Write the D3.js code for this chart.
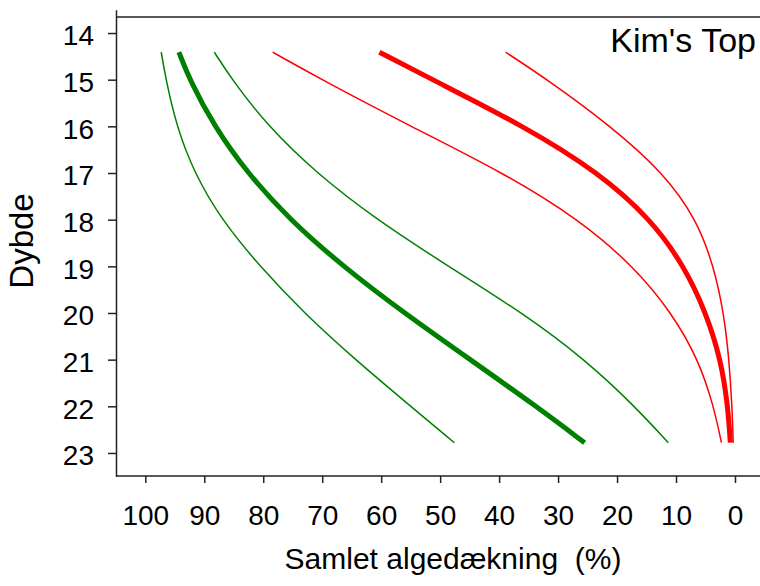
<!DOCTYPE html>
<html>
<head>
<meta charset="utf-8">
<script src="https://cdn.jsdelivr.net/npm/d3@7"></script>
<style>
  html, body { margin: 0; padding: 0; background: #fff; }
  svg { display: block; }
  text { font-family: Arial, "Liberation Sans", Helvetica, sans-serif; fill: #000; }
</style>
</head>
<body>
<svg id="chart" width="760" height="586"></svg>
<script>
// Depths (Dybde) at which curve values were read
const depths = [14.41, 15, 16, 17, 18, 19, 20, 21, 22, 22.78];

// Green series (Samlet algedækning %): fit and band
const greenFit   = [94.3, 92.5, 88.3, 82.7, 75.5, 66.5, 56.1, 44.9, 33.7, 25.5];
const greenLower = [97.3, 96.5, 94.7, 91.7, 87.1, 80.6, 73.1, 64.4, 55.0, 47.6];
const greenUpper = [88.3, 85.3, 79.2, 71.0, 60.8, 48.6, 36.0, 25.4, 17.0, 11.3];

// Red series: fit and band
const redFit   = [60.3, 51.3, 35.7, 23.0, 14.2, 8.6, 4.9, 2.4, 1.2, 0.8];
const redLower = [78.4, 70.1, 55.0, 39.2, 26.4, 17.2, 10.7, 6.2, 3.6, 2.3];
const redUpper = [38.9, 31.8, 21.0, 12.1, 6.5, 3.6, 1.9, 1.0, 0.5, 0.3];

const xTicks = [100, 90, 80, 70, 60, 50, 40, 30, 20, 10, 0];
const yTicks = [14, 15, 16, 17, 18, 19, 20, 21, 22, 23];

const svg = d3.select("#chart");

const x = d3.scaleLinear().domain([100, 0]).range([145.3, 735]);
const y = d3.scaleLinear().domain([13.5, 23.5]).range([9.7, 476.3]);

const axisColor = "#222";

// Frame: top line
svg.append("line").attr("x1", 116).attr("x2", 760).attr("y1", 17).attr("y2", 17)
  .attr("stroke", axisColor).attr("stroke-width", 1.5);

// Y axis
const yAxis = d3.axisLeft(y).tickValues(yTicks).tickSize(8).tickPadding(14).tickSizeOuter(0);
const gy = svg.append("g").attr("transform", "translate(116,0)").call(yAxis);
gy.select(".domain").attr("stroke", axisColor).attr("stroke-width", 1.5);
gy.selectAll(".tick line").attr("stroke", axisColor).attr("stroke-width", 1.5);
gy.selectAll(".tick text").attr("font-size", 28).attr("font-family", "Arial, 'Liberation Sans', sans-serif")
  .attr("fill", "#000").attr("dy", "0.42em");

// X axis
const xAxis = d3.axisBottom(x).tickValues(xTicks).tickSize(7).tickPadding(22).tickSizeOuter(0);
const gx = svg.append("g").attr("transform", "translate(0,476)").call(xAxis);
gx.select(".domain").remove();
gx.append("line").attr("x1", 116).attr("x2", 760).attr("y1", 0).attr("y2", 0)
  .attr("stroke", axisColor).attr("stroke-width", 1.5);
gx.selectAll(".tick line").attr("stroke", axisColor).attr("stroke-width", 1.5);
gx.selectAll(".tick text").attr("font-size", 28).attr("font-family", "Arial, 'Liberation Sans', sans-serif")
  .attr("fill", "#000").attr("dy", "0.71em");

// Curves
const line = d3.line()
  .x(d => x(d[1]))
  .y(d => y(d[0]))
  .curve(d3.curveBasis);

const series = [
  { vals: greenLower, color: "#008000", w: 1.5 },
  { vals: greenUpper, color: "#008000", w: 1.5 },
  { vals: greenFit,   color: "#008000", w: 5 },
  { vals: redLower,   color: "#ff0000", w: 1.5 },
  { vals: redUpper,   color: "#ff0000", w: 1.5 },
  { vals: redFit,     color: "#ff0000", w: 5 }
];

svg.append("g").selectAll("path").data(series).join("path")
  .attr("d", s => line(depths.map((d, i) => [d, s.vals[i]])))
  .attr("fill", "none")
  .attr("stroke", s => s.color)
  .attr("stroke-width", s => s.w);

// Labels
svg.append("text").attr("x", 756).attr("y", 52).attr("text-anchor", "end")
  .attr("font-size", 34).text("Kim's Top");

svg.append("text").attr("transform", "translate(33,241) rotate(-90)")
  .attr("text-anchor", "middle").attr("font-size", 33).text("Dybde");

svg.append("text").attr("x", 453).attr("y", 569).attr("text-anchor", "middle")
  .attr("font-size", 30).style("white-space", "pre").text("Samlet algedækning  (%)");
</script>
</body>
</html>
